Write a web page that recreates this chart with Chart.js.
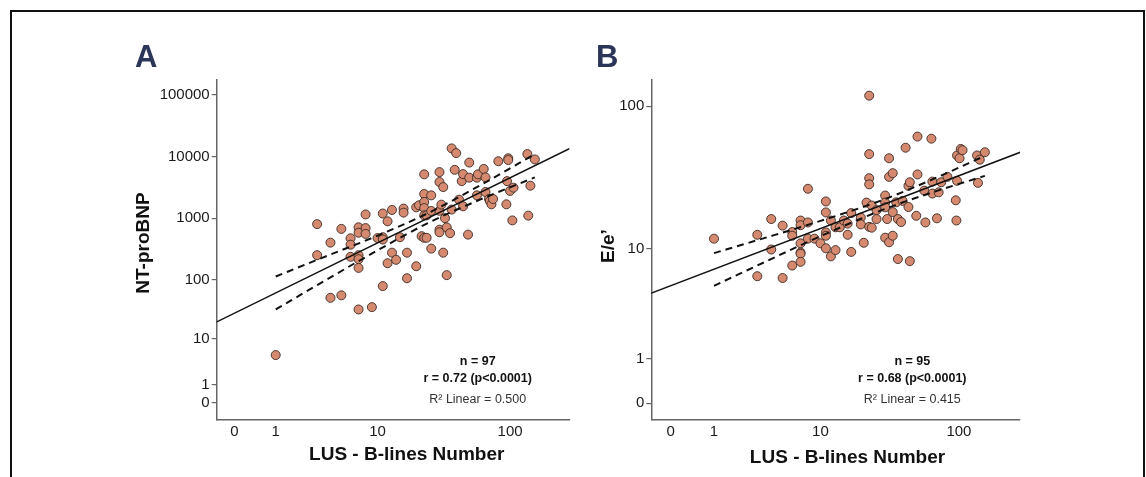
<!DOCTYPE html>
<html>
<head>
<meta charset="utf-8">
<script src="https://cdn.jsdelivr.net/npm/chart.js@4.4.1/dist/chart.umd.min.js"></script>
<style>
  html, body { margin: 0; padding: 0; background: #fff; }
  body { width: 1146px; height: 477px; position: relative; overflow: hidden; }
  .frame { position: absolute; left: 10px; top: 9.5px; width: 1131px; height: 520px;
           border: 2px solid #111; border-bottom: none; }
  canvas { position: absolute; top: 30px; }
  #chart-a { left: 130px; }
  #chart-b { left: 580px; }
</style>
</head>
<body>
<div class="frame"></div>
<canvas id="chart-a" width="450" height="445"></canvas>
<canvas id="chart-b" width="450" height="445"></canvas>
<script>
// ---- data ----
const xTickVals = [0, 1, 10, 100];
const yTickValsA = [0, 1, 10, 100, 1000, 10000, 100000];
const yTickValsB = [0, 1, 10, 100];

// Panel A: LUS B-lines vs NT-proBNP
const bLinesA = [1, 3, 3, 4, 4, 5, 5, 6, 6, 6, 7, 7, 7, 7, 7, 7, 8, 8, 8, 9, 10, 11, 11, 11, 11, 12, 12, 13, 13, 14,
  15, 16, 16, 17, 17, 20, 20, 21, 22, 23, 23, 23, 23, 23, 23, 24, 24, 26, 26, 26, 30, 30, 30, 30, 30, 31, 32, 32, 33, 34,
  34, 36, 37, 37, 39, 40, 42, 44, 45, 45, 49, 50, 50, 57, 57, 58, 64, 66, 66, 70, 71, 73, 75, 82, 94, 95, 97, 97, 100, 104,
  106, 134, 136, 141, 152];
const ntProBNP = [5, 800, 250, 400, 50, 670, 55, 470, 370, 235, 710, 580, 250, 215, 155, 32, 1150, 690, 555, 35, 475, 1190, 490, 450, 78, 890, 185, 1360, 275, 210,
  490, 1430, 1230, 275, 105, 1500, 165, 1620, 510, 5150, 2470, 1830, 1460, 1110, 480, 480, 1110, 2350, 1310, 320, 5600, 3870, 1320, 650, 590, 1660, 3200, 275, 1000, 710,
  118, 570, 13600, 1380, 6100, 11400, 2000, 4000, 5200, 1560, 540, 8000, 4550, 4550, 2350, 5150, 6300, 4600, 2660, 2050, 1900, 1680, 2050, 8400, 1680, 4000, 9400, 8800, 2770, 920,
  3130, 11000, 1100, 3370, 9000];
const fitXA = [-0.5, 300];
const fitYA = [12.4, 15000];
const ciXA = [1, 3, 10, 25, 60, 152];
const ciHiA = [112, 210, 520, 1230, 3400, 11000];
const ciLoA = [32, 81, 300, 850, 2000, 4600];

// Panel B: LUS B-lines vs E/e'
const bLinesB = [1, 3, 3, 4, 4, 5, 5, 6, 6, 6, 7, 7, 7, 7, 7, 7, 8, 8, 8, 9, 10, 11, 11, 11, 11, 11, 12, 12, 13, 13,
  14, 15, 16, 16, 17, 17, 20, 20, 21, 22, 23, 23, 23, 23, 23, 24, 24, 26, 26, 30, 30, 30, 30, 31, 32, 32, 32, 34, 34, 34,
  36, 37, 37, 39, 40, 42, 44, 45, 44, 45, 50, 51, 51, 57, 58, 64, 65, 65, 70, 72, 75, 83, 95, 96, 97, 97, 101, 103, 106, 134,
  136, 140, 152];
const eRatio = [11.9, 12.7, 6.2, 16.5, 9.9, 14.8, 6.0, 13.3, 12.5, 7.5, 16.1, 14.9, 11, 9.4, 9.2, 8.0, 27, 15.6, 11.9, 11.9, 11, 22, 18.4, 13.2, 12.5, 10.1, 16.1, 8.8, 14.4, 9.8,
  14.4, 16.1, 15.3, 12.7, 18.2, 9.5, 16.9, 15.1, 11.1, 21.6, 118, 47, 32, 29, 14.5, 20.6, 14.3, 19.1, 16.5, 24.2, 21.6, 20, 12.1, 16.5, 44, 32.7, 11.2, 34.7, 18.5, 12.5,
  21.7, 16.5, 8.4, 15.7, 22.2, 52, 28.3, 30, 20.1, 8.1, 17.4, 34, 62, 26.2, 15.6, 60, 30.3, 25, 16.7, 25.5, 30, 32.7, 22.4, 16.1, 30.7, 46, 44, 51, 50, 46,
  29.7, 43, 48.4];
const fitXB = [-0.5, 300];
const fitYB = [3.8, 50.4];
const ciXB = [1, 3, 10, 30, 70, 152];
const ciHiB = [9.3, 11.6, 16.0, 22.9, 32.4, 45.7];
const ciLoB = [5.2, 7.5, 12.4, 19.5, 26.1, 33.2];

// axes are log10(value + 1)
const tf = v => Math.log10(v + 1);
const pts = (xs, ys) => xs.map((x, i) => ({ x: tf(x), y: tf(ys[i]) }));

const FONT = '"Liberation Sans", Arial, Helvetica, sans-serif';
const DOT_FILL = '#d58a70';
const DOT_EDGE = '#3b2a24';

// draws panel letter, axis titles and the stats block
const panelText = {
    id: 'panelText',
    afterDraw(chart, args, opts) {
        const ctx = chart.ctx;
        (opts.items || []).forEach(it => {
            ctx.save();
            ctx.font = it.font;
            ctx.fillStyle = it.color || '#111';
            ctx.textAlign = it.align || 'center';
            ctx.textBaseline = it.baseline || 'middle';
            ctx.translate(it.x, it.y);
            if (it.rotate) ctx.rotate(it.rotate);
            ctx.fillText(it.text, 0, 0);
            ctx.restore();
        });
    }
};

const makeScale = (min, max, tickVals, extra) => Object.assign({
    type: 'linear',
    min: min,
    max: max,
    afterBuildTicks: (scale) => { scale.ticks = tickVals.map(v => ({ value: tf(v) })); },
    ticks: {
        color: '#1a1a1a',
        font: { family: FONT, size: 15 },
        callback: (val, idx) => String(tickVals[idx])
    },
    border: { display: true, color: '#666', width: 1.5 },
    grid: { display: true, drawOnChartArea: false, drawTicks: false, color: '#666', lineWidth: 1.2 }
}, extra);

const buildChart = (canvasId, cfg) => {
    const ctx = document.getElementById(canvasId).getContext('2d');
    return new Chart(ctx, {
        type: 'scatter',
        data: {
            datasets: [
                { data: pts(cfg.fitX, cfg.fitY), showLine: true, borderColor: '#111', borderWidth: 1.5, pointRadius: 0 },
                { data: pts(cfg.ciX, cfg.ciHi), showLine: true, borderColor: '#111', borderWidth: 2, borderDash: [7, 5],
                  pointRadius: 0, cubicInterpolationMode: 'monotone' },
                { data: pts(cfg.ciX, cfg.ciLo), showLine: true, borderColor: '#111', borderWidth: 2, borderDash: [7, 5],
                  pointRadius: 0, cubicInterpolationMode: 'monotone' },
                { data: pts(cfg.x, cfg.y), pointRadius: 4.5, pointBackgroundColor: DOT_FILL,
                  pointBorderColor: DOT_EDGE, pointBorderWidth: 0.9 }
            ]
        },
        options: {
            responsive: false,
            animation: false,
            devicePixelRatio: 1,
            layout: { padding: { left: 0, top: 49.3, right: cfg.padRight, bottom: 0 } },
            scales: {
                x: makeScale(cfg.xMin, cfg.xMax, xTickVals, {
                    afterFit: (scale) => { scale.height = 55; }
                }),
                y: makeScale(cfg.yMin, cfg.yMax, cfg.yTicks, {
                    afterFit: (scale) => { scale.width = cfg.yWidth; }
                })
            },
            plugins: {
                legend: { display: false },
                tooltip: { enabled: false },
                panelText: { items: cfg.texts }
            }
        },
        plugins: [panelText]
    });
};

const yTickOpts = (scaleOpts) => {
    scaleOpts.grid.drawTicks = true;
    scaleOpts.grid.tickLength = 5;
    scaleOpts.ticks.padding = 2;
    return scaleOpts;
};

const bold = (s) => 'bold ' + s + 'px ' + FONT;
const reg = (s) => s + 'px ' + FONT;
const LETTER = '#2b3558';

const chartA = buildChart('chart-a', {
    x: bLinesA, y: ntProBNP,
    fitX: fitXA, fitY: fitYA, ciX: ciXA, ciHi: ciHiA, ciLo: ciLoA,
    xMin: -0.128, xMax: 2.435, yMin: -0.276, yMax: 5.255,
    yTicks: yTickValsA, yWidth: 86.7, padRight: 10.7,
    texts: [
        { text: 'A', x: 5, y: 36.5, font: bold(31), color: LETTER, align: 'left', baseline: 'alphabetic' },
        { text: 'NT-proBNP', x: 13.5, y: 213, font: bold(19), rotate: -Math.PI / 2 },
        { text: 'LUS - B-lines Number', x: 276.7, y: 425, font: bold(19) },
        { text: 'n = 97', x: 347.7, y: 332, font: bold(12.5) },
        { text: 'r = 0.72 (p<0.0001)', x: 347.7, y: 349, font: bold(12.5) },
        { text: 'R\u00b2 Linear = 0.500', x: 347.7, y: 369.3, font: reg(12.5), color: '#333' }
    ]
});

const chartB = buildChart('chart-b', {
    x: bLinesB, y: eRatio,
    fitX: fitXB, fitY: fitYB, ciX: ciXB, ciHi: ciHiB, ciLo: ciLoB,
    xMin: -0.135, xMax: 2.429, yMin: -0.113, yMax: 2.186,
    yTicks: yTickValsB, yWidth: 71.3, padRight: 10,
    texts: [
        { text: 'B', x: 16, y: 36.5, font: bold(31), color: LETTER, align: 'left', baseline: 'alphabetic' },
        { text: 'E/e\u2019', x: 29, y: 216, font: bold(19), rotate: -Math.PI / 2 },
        { text: 'LUS - B-lines Number', x: 267.5, y: 427.5, font: bold(19) },
        { text: 'n = 95', x: 332.3, y: 332, font: bold(12.5) },
        { text: 'r = 0.68 (p<0.0001)', x: 332.3, y: 349, font: bold(12.5) },
        { text: 'R\u00b2 Linear = 0.415', x: 332.3, y: 369.3, font: reg(12.5), color: '#333' }
    ]
});

// y axes get short outward tick marks
[chartA, chartB].forEach(c => {
    yTickOpts(c.options.scales.y);
    c.update();
});
</script>
</body>
</html>
